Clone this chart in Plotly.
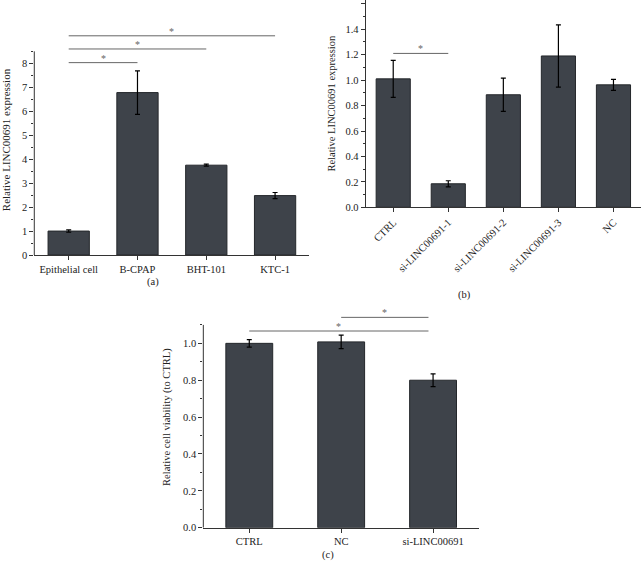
"""
Expressão de LINC00691 e viabilidade celular (painéis a, b, c).
"""

import plotly.graph_objects as go

# Painel (a)
cells_a = ["Epithelial cell", "B-CPAP", "BHT-101", "KTC-1"]
expr_a = [1.0, 6.78, 3.75, 2.48]
err_a = [0.05, 0.91, 0.04, 0.13]
sig_a_start = [0, 0, 0]
sig_a_end = [1, 2, 3]
sig_a_y = [8.03, 8.6, 9.15]

# Painel (b)
groups_b = ["CTRL", "si-LINC00691-1", "si-LINC00691-2", "si-LINC00691-3", "NC"]
expr_b = [1.01, 0.185, 0.885, 1.19, 0.963]
err_b = [0.145, 0.024, 0.13, 0.245, 0.043]
sig_b_start = [0]
sig_b_end = [1]
sig_b_y = [1.21]

# Painel (c)
groups_c = ["CTRL", "NC", "si-LINC00691"]
viab_c = [1.0, 1.008, 0.80]
err_c = [0.02, 0.037, 0.035]
sig_c_start = [0, 1]
sig_c_end = [1.95, 1.95]
sig_c_y = [1.067, 1.141]

BAR = "#3e434a"
EDGE = "#24272b"
AXIS = "#333333"
SIG = "#666666"
FONT = "Liberation Serif"

fig = go.Figure()


def add_bars(x, y, err, xa, ya, width):
    fig.add_trace(go.Bar(
        x=x, y=y, xaxis=xa, yaxis=ya, width=width,
        marker=dict(color=BAR, line=dict(color=EDGE, width=1)),
        error_y=dict(type="data", array=err, color="black", thickness=1.2, width=2.5),
        showlegend=False,
    ))


add_bars(cells_a, expr_a, err_a, "x", "y", 0.6)
add_bars(groups_b, expr_b, err_b, "x2", "y2", 0.62)
add_bars(groups_c, viab_c, err_c, "x3", "y3", 0.51)


def add_sig(starts, ends, ys, xa, ya, size=10):
    for s, e, yv in zip(starts, ends, ys):
        fig.add_shape(type="line", xref=xa, yref=ya, x0=s, x1=e, y0=yv, y1=yv,
                      line=dict(color=SIG, width=1))
        fig.add_annotation(x=(s + e) / 2, y=yv, xref=xa, yref=ya, text="*",
                           showarrow=False, yanchor="bottom", yshift=-3,
                           font=dict(family=FONT, size=size, color=SIG))


add_sig(sig_a_start, sig_a_end, sig_a_y, "x", "y")
add_sig(sig_b_start, sig_b_end, sig_b_y, "x2", "y2")
add_sig(sig_c_start, sig_c_end, sig_c_y, "x3", "y3")

# eixo y desenhado à mão onde a faixa vai acima do topo do eixo
fig.add_shape(type="line", xref="x domain", yref="y", x0=0, x1=0, y0=0, y1=8.5,
              line=dict(color=AXIS, width=1))
fig.add_shape(type="line", xref="x3 domain", yref="y3", x0=0, x1=0, y0=0, y1=1.1,
              line=dict(color=AXIS, width=1))

tickfont = dict(family=FONT, size=10.5, color="#222222")
xcommon = dict(showline=True, linecolor=AXIS, linewidth=1, ticks="outside",
               ticklen=4, tickcolor=AXIS, showgrid=False, tickfont=tickfont,
               automargin=False)
ycommon = dict(ticks="outside", ticklen=4, tickcolor=AXIS, showgrid=False,
               zeroline=False, tickfont=tickfont, automargin=False)

fig.update_layout(
    width=641, height=570,
    margin=dict(l=0, r=0, t=0, b=0),
    paper_bgcolor="white", plot_bgcolor="white",
    font=dict(family=FONT, size=10.5, color="#222222"),
    xaxis=dict(domain=[0.0535, 0.4828], anchor="y", range=[-0.5, 3.5], **xcommon),
    yaxis=dict(domain=[0.5526, 0.9561], anchor="x", range=[0, 9.6],
               tickvals=[0, 1, 2, 3, 4, 5, 6, 7, 8], showline=False,
               minor=dict(ticks="outside", ticklen=2, tickcolor=AXIS,
                          tickvals=[0.5, 1.5, 2.5, 3.5, 4.5, 5.5, 6.5, 7.5, 8.5]),
               title=dict(text="Relative LINC00691 expression",
                          font=dict(family=FONT, size=11), standoff=9),
               **ycommon),
    xaxis2=dict(domain=[0.5705, 1.0], anchor="y2", range=[-0.5, 4.5], tickangle=-45,
                **xcommon),
    yaxis2=dict(domain=[0.6363, 1.0], anchor="x2", range=[0, 1.63],
                tickvals=[0, 0.2, 0.4, 0.6, 0.8, 1.0, 1.2, 1.4, 1.6], tickformat=".1f",
                showline=True, linecolor=AXIS, linewidth=1,
                minor=dict(ticks="outside", ticklen=2, tickcolor=AXIS, dtick=0.1),
                title=dict(text="Relative LINC00691 expression",
                           font=dict(family=FONT, size=10.5), standoff=7),
                **ycommon),
    xaxis3=dict(domain=[0.3172, 0.7473], anchor="y3", range=[-0.5, 2.5], **xcommon),
    yaxis3=dict(domain=[0.0742, 0.4623], anchor="x3", range=[0, 1.2],
                tickvals=[0, 0.2, 0.4, 0.6, 0.8, 1.0], tickformat=".1f", showline=False,
                minor=dict(ticks="outside", ticklen=2, tickcolor=AXIS,
                           tickvals=[0.1, 0.3, 0.5, 0.7, 0.9, 1.1]),
                title=dict(text="Relative cell viability (to CTRL)",
                           font=dict(family=FONT, size=10.5), standoff=10),
                **ycommon),
)

# rótulos dos painéis
for txt, px, py in [("(a)", 0.2387, 0.5058), ("(b)", 0.7254, 0.483), ("(c)", 0.5122, 0.0263)]:
    fig.add_annotation(x=px, y=py, xref="paper", yref="paper", text=txt, showarrow=False,
                       xanchor="center", yanchor="middle",
                       font=dict(family=FONT, size=10.5, color="#222222"))

# a página padrão tem margem de 8px no body
fig.write_html("out.html", config={"displayModeBar": False},
               post_script="document.body.style.margin='0';")
